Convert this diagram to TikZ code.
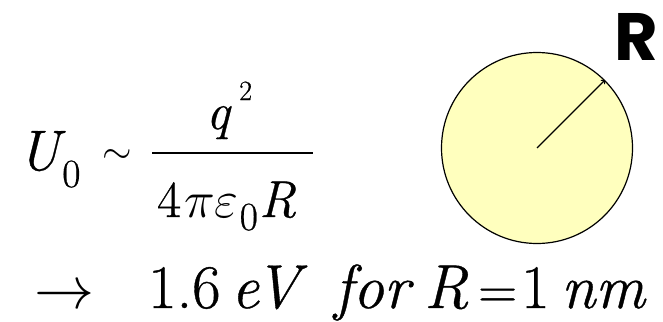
\RequirePackage{fix-cm}
\documentclass[tikz,border=0pt]{standalone}
\usepackage{fontspec}
\setmainfont{Latin Modern Roman}[FakeBold=0.6]
\newfontfamily\handfont{Poppins}
\definecolor{ballfill}{RGB}{255,255,190}
\begin{document}
\begin{tikzpicture}[
    x=1pt, y=-1pt,
    big/.style={anchor=base west, inner sep=0pt, font=\fontsize{57}{57}\selectfont},
    mid/.style={anchor=base west, inner sep=0pt, font=\fontsize{52}{52}\selectfont},
    low/.style={anchor=base west, inner sep=0pt, font=\fontsize{62}{62}\selectfont},
    sub/.style={anchor=base west, inner sep=0pt, font=\fontsize{40}{40}\selectfont},
    ball/.style={circle, draw, line width=1.2pt, fill=ballfill, minimum size=191pt, inner sep=0pt}
  ]
    \useasboundingbox (0,0) rectangle (663,321);
    % left: the formula
    \node[big] (u) at (18,170) {\itshape U};
    \node[sub] (u0) at (62,187) {0};
    \node[anchor=center, inner sep=0pt, font=\fontsize{38}{38}\selectfont] (sim) at (117,157) {$\sim$};
    \node[mid] (num) at (206,129) {\itshape q};
    \node[anchor=base west, inner sep=0pt, font=\fontsize{28}{28}\selectfont] (sq) at (239,100) {2};
    \coordinate (barl) at (152,153);
    \coordinate (barr) at (313,153);
    \draw[line width=2.4pt] (barl) -- (barr);
    \node[mid] (den) at (157,217) {4\hspace{3pt}$\pi\varepsilon$\hspace{1pt}\raisebox{-13pt}{\fontsize{40}{40}\selectfont 0}\hspace{1pt}\textit{R}};
    % bottom line
    \node[low, font=\fontsize{60}{60}\selectfont] (arr) at (34,308) {$\rightarrow$};
    \node[low] (val) at (148,308) {1.6};
    \node[low] (unit) at (231,308) {\itshape eV};
    \node[low] (for) at (334,308) {\itshape for};
    \node[low] (rr) at (424,308) {\itshape R};
    \node[low, font=\fontsize{54}{54}\selectfont] (eq) at (478,308) {=};
    \node[low] (one) at (521,308) {1};
    \node[low] (nm) at (561,308) {\itshape nm};
    % right: the sphere
    \node[ball] (s) at (537,148) {};
    \draw[->, line width=1.2pt] (s.center) -- (s.45);
    \node[anchor=base west, inner sep=0pt, font=\fontsize{67}{67}\selectfont\handfont\bfseries] (rlab) at (614,60) {R};
  \end{tikzpicture}
\end{document}
